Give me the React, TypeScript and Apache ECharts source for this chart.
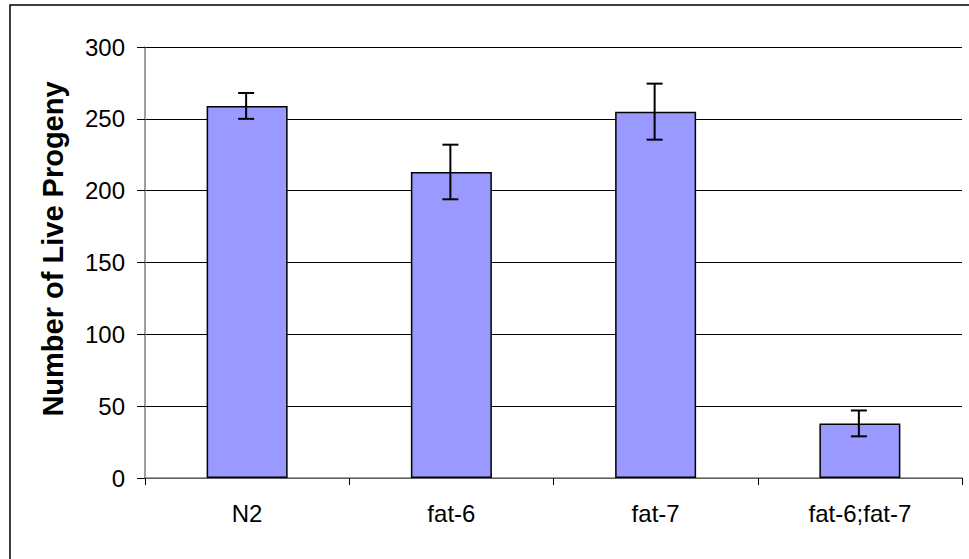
import React, { useEffect, useRef } from "react";
import * as echarts from "echarts";

const categories = ["N2", "fat-6", "fat-7", "fat-6;fat-7"];
const means = [259, 213, 255, 38];
const errors = [9, 19, 19.5, 9];
const yTicks = { min: 0, max: 300, interval: 50 };
const yTitle = "Number of Live Progeny";

export default function App() {
  const ref = useRef<HTMLDivElement>(null);
  useEffect(() => {
    if (!ref.current) return;
    const chart = echarts.init(ref.current, null, { renderer: "svg" });
    const font = "Liberation Sans, Arial, sans-serif";
    chart.setOption({
      animation: false,
      backgroundColor: "#ffffff",
      grid: { left: 145, top: 47, right: 7, bottom: 81, containLabel: false },
      graphic: [
        {
          type: "rect",
          shape: { x: 10, y: 5, width: 980, height: 580 },
          style: { fill: "none", stroke: "#000", lineWidth: 1.5 },
          z: 0,
        },
        {
          type: "text",
          x: 53,
          y: 249,
          rotation: Math.PI / 2,
          style: {
            text: yTitle,
            font: `bold 29px ${font}`,
            fill: "#000",
            align: "center",
            verticalAlign: "middle",
          },
        },
      ],
      xAxis: {
        type: "category",
        data: categories,
        axisLine: { lineStyle: { color: "#808080", width: 1.5 } },
        axisTick: { show: true, length: 7, lineStyle: { color: "#000", width: 1 } },
        axisLabel: { color: "#000", fontSize: 24, fontFamily: font, margin: 23 },
      },
      yAxis: {
        type: "value",
        min: yTicks.min,
        max: yTicks.max,
        interval: yTicks.interval,
        axisLine: { show: true, lineStyle: { color: "#808080", width: 1.5 } },
        axisTick: { show: true, length: 8, lineStyle: { color: "#000", width: 1 } },
        axisLabel: { color: "#000", fontSize: 24, fontFamily: font, margin: 20 },
        splitLine: { show: true, lineStyle: { color: "#000", width: 1 } },
      },
      series: [
        {
          type: "bar",
          data: means,
          barWidth: 81,
          itemStyle: { color: "#9999FF", borderColor: "#000", borderWidth: 1.5 },
          z: 2,
        },
        {
          type: "custom",
          z: 3,
          data: means.map((m, i) => [i, m - errors[i], m + errors[i]]),
          renderItem: (params: any, api: any) => {
            const x = api.value(0);
            const lo = api.coord([x, api.value(1)]);
            const hi = api.coord([x, api.value(2)]);
            const cx = lo[0] - 1;
            const half = 8;
            const style = { stroke: "#000", lineWidth: 2 };
            return {
              type: "group",
              children: [
                { type: "line", shape: { x1: cx, y1: lo[1], x2: cx, y2: hi[1] }, style },
                { type: "line", shape: { x1: cx - half, y1: lo[1], x2: cx + half, y2: lo[1] }, style },
                { type: "line", shape: { x1: cx - half, y1: hi[1], x2: cx + half, y2: hi[1] }, style },
              ],
            };
          },
        },
      ],
    });
    return () => chart.dispose();
  }, []);
  return <div ref={ref} style={{ width: 969, height: 559, position: "fixed", left: 0, top: 0 }} />;
}
